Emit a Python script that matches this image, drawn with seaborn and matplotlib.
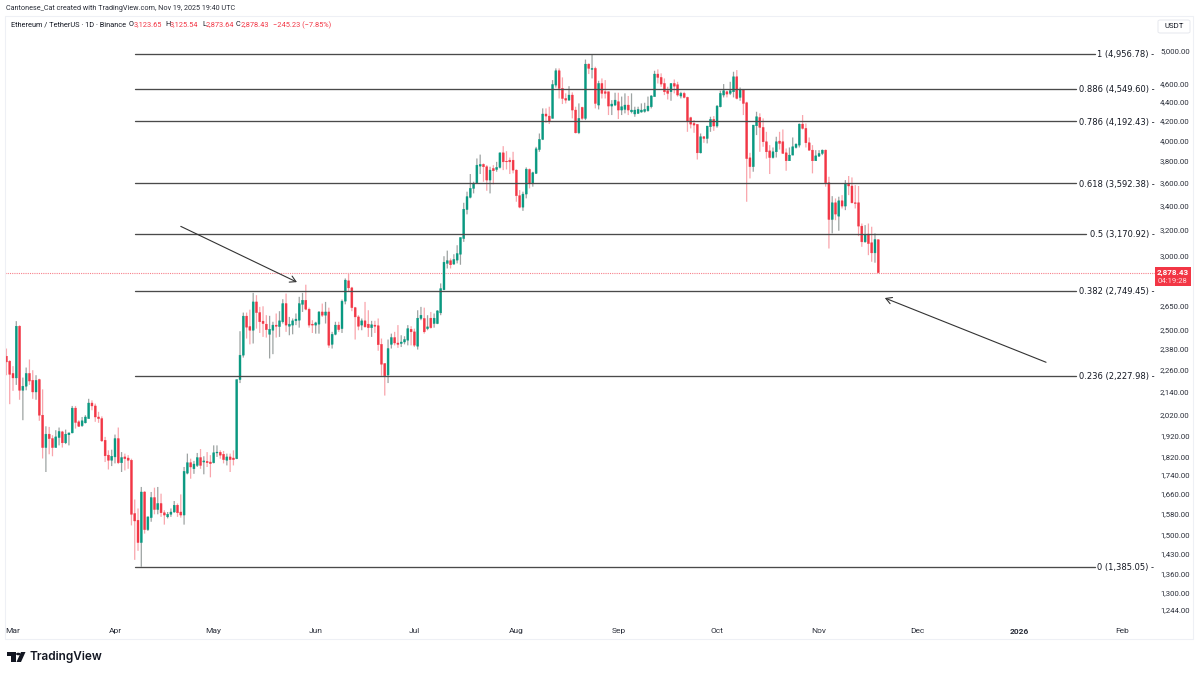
import numpy as np
import matplotlib
matplotlib.use('Agg')
import matplotlib.pyplot as plt
from matplotlib.patches import Rectangle, FancyBboxPatch, Polygon, Circle
from matplotlib.ticker import FixedLocator, FixedFormatter, NullLocator
import seaborn as sns

# daily ETH/USDT candles, first candle is Feb 27 2025
opens = [2338, 2309, 2240, 2215, 2519, 2148, 2170, 2240, 2202, 2139,
         2206, 2019, 1863, 1926, 1905, 1863, 1910, 1937, 1885, 1923,
         1932, 2055, 1986, 1967, 1981, 2002, 2081, 2066, 2010, 2002,
         1897, 1828, 1805, 1820, 1905, 1794, 1820, 1815, 1805, 1581,
         1555, 1471, 1668, 1519, 1565, 1645, 1597, 1621, 1584, 1568,
         1578, 1587, 1614, 1587, 1575, 1748, 1794, 1767, 1782, 1817,
         1797, 1800, 1797, 1794, 1838, 1841, 1832, 1805, 1820, 1815,
         1812, 2206, 2344, 2583, 2517, 2494, 2676, 2606, 2551, 2532,
         2469, 2494, 2526, 2517, 2547, 2665, 2519, 2526, 2553, 2557,
         2660, 2687, 2628, 2532, 2526, 2532, 2610, 2589, 2610, 2408,
         2469, 2526, 2504, 2681, 2820, 2771, 2638, 2578, 2526, 2553,
         2532, 2510, 2526, 2522, 2408, 2296, 2231, 2408, 2449, 2416,
         2413, 2422, 2433, 2500, 2484, 2397, 2568, 2568, 2504, 2570,
         2536, 2536, 2604, 2758, 2945, 2965, 2940, 2969, 3013, 3133,
         3367, 3471, 3549, 3594, 3751, 3767, 3745, 3623, 3729, 3720,
         3739, 3877, 3797, 3807, 3807, 3714, 3485, 3387, 3499, 3720,
         3594, 3684, 3909, 4009, 4270, 4248, 4224, 4588, 4755, 4551,
         4438, 4420, 4476, 4312, 4075, 4341, 4224, 4834, 4771, 4783,
         4366, 4607, 4513, 4513, 4355, 4366, 4402, 4312, 4319, 4366,
         4294, 4270, 4277, 4291, 4298, 4305, 4348, 4459, 4716, 4677,
         4607, 4524, 4513, 4607, 4592, 4465, 4495, 4450, 4231, 4171,
         4161, 3877, 4035, 4018, 4137, 4213, 4144, 4348, 4476, 4513,
         4495, 4513, 4684, 4450, 4532, 4391, 3829, 3746, 4147, 4234,
         4130, 3985, 3896, 3832, 3887, 3992, 3985, 3877, 3801, 3855,
         3929, 3952, 4164, 4120, 3975, 3903, 3801, 3845, 3871, 3903,
         3599, 3285, 3424, 3312, 3441, 3396, 3587, 3570, 3424, 3424,
         3231, 3107, 3168, 3100, 3023, 3123.65]
highs = [2383, 2315, 2281, 2551, 2525, 2217, 2273, 2319, 2258, 2230,
         2211, 2153, 1964, 1961, 1921, 1945, 1958, 1942, 1948, 1932,
         2066, 2066, 1994, 2010, 2019, 2103, 2095, 2078, 2036, 2013,
         1913, 1850, 1853, 1924, 1958, 1842, 1835, 1828, 1812, 1637,
         1601, 1689, 1671, 1568, 1668, 1686, 1689, 1661, 1594, 1587,
         1601, 1631, 1621, 1658, 1775, 1835, 1812, 1802, 1838, 1856,
         1823, 1842, 1828, 1873, 1873, 1850, 1847, 1835, 1835, 1850,
         2206, 2488, 2606, 2606, 2625, 2737, 2721, 2643, 2647, 2589,
         2585, 2547, 2600, 2615, 2694, 2732, 2578, 2568, 2600, 2710,
         2737, 2793, 2638, 2557, 2547, 2615, 2665, 2676, 2638, 2484,
         2547, 2547, 2692, 2837, 2876, 2778, 2643, 2589, 2568, 2676,
         2621, 2553, 2553, 2568, 2443, 2296, 2437, 2473, 2484, 2526,
         2463, 2457, 2526, 2519, 2504, 2621, 2643, 2638, 2589, 2610,
         2600, 2621, 2802, 2998, 3040, 2981, 3013, 3081, 3141, 3424,
         3520, 3678, 3608, 3823, 3860, 3776, 3760, 3745, 3760, 3791,
         3877, 3942, 3893, 3832, 3887, 3720, 3534, 3520, 3739, 3729,
         3699, 3935, 4068, 4330, 4330, 4348, 4646, 4783, 4783, 4677,
         4495, 4576, 4506, 4348, 4384, 4348, 4889, 4843, 4957, 4803,
         4638, 4665, 4646, 4513, 4420, 4502, 4502, 4459, 4495, 4466,
         4495, 4348, 4348, 4384, 4391, 4459, 4476, 4755, 4771, 4724,
         4665, 4569, 4607, 4653, 4626, 4513, 4513, 4458, 4241, 4206,
         4164, 4068, 4042, 4144, 4241, 4248, 4366, 4525, 4600, 4525,
         4626, 4743, 4763, 4561, 4539, 4402, 3877, 4154, 4294, 4277,
         4224, 4085, 3952, 3929, 4035, 4085, 4109, 3919, 3929, 4028,
         3969, 4171, 4259, 4171, 4028, 3952, 3903, 3903, 3909, 3909,
         3653, 3481, 3461, 3476, 3490, 3623, 3660, 3647, 3578, 3570,
         3252, 3239, 3252, 3226, 3173, 3125.54]
lows = [2230, 2075, 2145, 2177, 2098, 1994, 2148, 2177, 2103, 2098,
        1991, 1813, 1753, 1832, 1823, 1863, 1873, 1863, 1879, 1873,
        1930, 1953, 1961, 1961, 1978, 2002, 2044, 1986, 1981, 1889,
        1797, 1764, 1779, 1791, 1788, 1753, 1760, 1767, 1535, 1409,
        1441, 1385, 1504, 1514, 1549, 1578, 1578, 1568, 1538, 1562,
        1568, 1584, 1568, 1565, 1538, 1743, 1724, 1745, 1775, 1767,
        1743, 1775, 1730, 1791, 1820, 1812, 1791, 1782, 1753, 1782,
        1810, 2187, 2330, 2443, 2408, 2413, 2504, 2477, 2453, 2449,
        2325, 2350, 2449, 2453, 2536, 2484, 2463, 2469, 2526, 2510,
        2610, 2621, 2510, 2477, 2473, 2473, 2578, 2536, 2387, 2383,
        2463, 2484, 2477, 2660, 2743, 2615, 2437, 2494, 2494, 2510,
        2453, 2453, 2477, 2370, 2227, 2120, 2187, 2383, 2402, 2387,
        2392, 2408, 2402, 2402, 2392, 2377, 2557, 2473, 2494, 2504,
        2510, 2532, 2589, 2755, 2908, 2908, 2935, 2945, 2935, 3107,
        3327, 3462, 3505, 3594, 3678, 3608, 3528, 3505, 3585, 3699,
        3729, 3714, 3720, 3678, 3684, 3433, 3378, 3356, 3462, 3549,
        3564, 3678, 3887, 4002, 4178, 4165, 4224, 4560, 4438, 4377,
        4384, 4413, 4224, 4068, 4062, 4206, 4206, 4716, 4665, 4330,
        4319, 4438, 4438, 4259, 4259, 4355, 4217, 4259, 4277, 4259,
        4277, 4241, 4270, 4284, 4284, 4294, 4330, 4459, 4607, 4569,
        4476, 4427, 4413, 4495, 4459, 4439, 4439, 4085, 4120, 4075,
        3813, 3871, 3975, 3969, 4085, 4095, 4127, 4341, 4450, 4450,
        4476, 4450, 4428, 4413, 4259, 3433, 3638, 3699, 4052, 3887,
        3936, 3822, 3678, 3822, 3832, 3909, 3871, 3708, 3801, 3855,
        3919, 3929, 4109, 3929, 3896, 3684, 3801, 3839, 3855, 3564,
        3056, 3173, 3279, 3194, 3376, 3362, 3490, 3418, 3376, 3152,
        3069, 3100, 3006, 2957, 2950, 2873.64]
closes = [2305, 2235, 2215, 2519, 2148, 2170, 2240, 2198, 2139, 2202,
          2019, 1863, 1926, 1905, 1863, 1913, 1939, 1885, 1926, 1932,
          2055, 1983, 1964, 1991, 2010, 2081, 2066, 2010, 2002, 1894,
          1825, 1805, 1823, 1905, 1794, 1817, 1812, 1805, 1578, 1552,
          1471, 1668, 1519, 1568, 1645, 1597, 1621, 1584, 1575, 1578,
          1587, 1614, 1584, 1575, 1756, 1794, 1775, 1788, 1817, 1782,
          1802, 1794, 1790, 1839, 1842, 1828, 1808, 1820, 1808, 1808,
          2206, 2344, 2583, 2513, 2494, 2676, 2606, 2547, 2536, 2498,
          2500, 2526, 2519, 2553, 2665, 2526, 2532, 2553, 2564, 2665,
          2687, 2628, 2526, 2526, 2540, 2610, 2589, 2610, 2403, 2469,
          2526, 2498, 2681, 2825, 2771, 2638, 2578, 2519, 2553, 2515,
          2510, 2528, 2519, 2406, 2292, 2227, 2383, 2449, 2416, 2408,
          2422, 2437, 2504, 2484, 2403, 2570, 2589, 2484, 2515, 2510,
          2570, 2617, 2766, 2954, 2965, 2935, 2974, 3018, 3141, 3370,
          3477, 3549, 3594, 3760, 3767, 3745, 3623, 3714, 3708, 3739,
          3877, 3791, 3791, 3791, 3714, 3485, 3387, 3499, 3723, 3594,
          3690, 3916, 4009, 4270, 4248, 4189, 4595, 4755, 4551, 4438,
          4420, 4476, 4312, 4075, 4224, 4224, 4834, 4783, 4783, 4384,
          4607, 4495, 4495, 4355, 4377, 4420, 4312, 4348, 4366, 4312,
          4312, 4312, 4319, 4312, 4319, 4355, 4466, 4716, 4677, 4600,
          4513, 4495, 4607, 4576, 4476, 4495, 4450, 4196, 4164, 4154,
          3877, 4035, 4018, 4144, 4213, 4144, 4355, 4495, 4525, 4487,
          4525, 4684, 4439, 4539, 4384, 3822, 3746, 4154, 4241, 4130,
          3985, 3887, 3832, 3887, 3985, 3969, 3871, 3801, 3855, 3936,
          3962, 4164, 4120, 3975, 3903, 3801, 3848, 3871, 3903, 3599,
          3285, 3424, 3329, 3441, 3396, 3587, 3570, 3424, 3418, 3231,
          3107, 3165, 3094, 3023, 3125, 2878.43]

fib_ratios = ["1", "0.886", "0.786", "0.618", "0.5", "0.382", "0.236", "0"]
fib_prices = [4956.78, 4549.60, 4192.43, 3592.38, 3170.92, 2749.45, 2227.98, 1385.05]

price_ticks = [5000, 4600, 4400, 4200, 4000, 3800, 3600, 3400, 3200, 3000, 2650, 2500,
               2380, 2260, 2140, 2020, 1920, 1820, 1740, 1660, 1580, 1500, 1430, 1360,
               1300, 1244]
month_days = [0, 31, 61, 92, 122, 153, 184, 214, 245, 275, 306, 337]
month_labels = ["Mar", "Apr", "May", "Jun", "Jul", "Aug", "Sep", "Oct", "Nov", "Dec", "2026", "Feb"]

last_price = 2878.43
GREEN = "#089981"
RED = "#F23645"
INK = "#131722"
W, H = 1200, 675

sns.set_theme(style="white")
plt.rcParams['font.family'] = ['Roboto', 'DejaVu Sans']

fig = plt.figure(figsize=(12, 6.75), dpi=100, facecolor="white")
ax = fig.add_axes([5 / W, 1 - 622 / H, 1150 / W, 606 / H])


def px_text(x, y, s, **kw):
    # figure text placed by pixel position
    kw.setdefault("color", INK)
    kw.setdefault("fontsize", 5.3)
    kw.setdefault("va", "center")
    fig.text(x / W, 1 - y / H, s, **kw)


o = np.array(opens, dtype=float)
h = np.array(highs, dtype=float)
l = np.array(lows, dtype=float)
c = np.array(closes, dtype=float)
days = np.arange(len(o)) - 2
up = c >= o

# wicks look washed out next to the bodies, no pixel snapping so they stay soft
ax.vlines(days[up], l[up], h[up], color="#9da3a2", linewidth=0.9, zorder=2, snap=False)
ax.vlines(days[~up], l[~up], h[~up], color="#f9a5ac", linewidth=0.9, zorder=2, snap=False)
ax.bar(days[up], (c - o)[up], bottom=o[up], width=0.6, color=GREEN, edgecolor=GREEN, linewidth=0.3, zorder=3, snap=False)
ax.bar(days[~up], (o - c)[~up], bottom=c[~up], width=0.6, color=RED, edgecolor=RED, linewidth=0.3, zorder=3, snap=False)

# fib levels, line stops short of the inline label
fib_start = 37
for ratio, price in zip(fib_ratios, fib_prices):
    fib_end = {"1": 329, "0": 329, "0.5": 326}.get(ratio, 323)
    sns.lineplot(x=[fib_start, fib_end], y=[price, price], ax=ax, color="#4a4a4a", linewidth=0.95,
                 legend=False, errorbar=None, zorder=4)
    ax.annotate(f"{ratio} ({price:,.2f}) -", xy=(0.9995, price), xycoords=ax.get_yaxis_transform(),
                xytext=(0, -0.6), textcoords="offset points", ha="right", va="center",
                fontsize=6, family=["DejaVu Sans"], color=INK, zorder=5)

ax.axhline(last_price, color="#f7808b", linewidth=0.8, linestyle=(0, (1, 1)), zorder=1)

arrow = dict(arrowstyle="->,head_length=0.35,head_width=0.2", color="#333333", linewidth=0.8, shrinkA=0, shrinkB=0)
ax.annotate("", xy=(86.3, 2811), xytext=(51, 3229), arrowprops=arrow, zorder=6)
ax.annotate("", xy=(265, 2702), xytext=(314, 2303), arrowprops=arrow, zorder=6)

ax.set_yscale("log")
ax.set_xlim((5 - 13) / 3.29, (1155 - 13) / 3.29)
ax.set_ylim(1207.2, 5448.5)
ax.yaxis.tick_right()
ax.yaxis.set_major_locator(FixedLocator(price_ticks))
ax.yaxis.set_major_formatter(FixedFormatter([f"{t:,.2f}" for t in price_ticks]))
ax.yaxis.set_minor_locator(NullLocator())
ax.tick_params(axis="y", length=0, pad=25, labelsize=5.6, labelcolor="#2a2e39")
for lab in ax.get_yticklabels():
    lab.set_ha("right")
ax.set_xticks(month_days)
ax.set_xticklabels(month_labels)
ax.tick_params(axis="x", length=0, pad=4.5, labelsize=6, labelcolor="#2a2e39")
ax.get_xticklabels()[month_labels.index("2026")].set_fontweight("bold")
ax.grid(False)
sns.despine(ax=ax, left=True, right=True, top=True, bottom=True)

# pane outline, USDT button and last price tag
fig.add_artist(Rectangle((5 / W, 1 - 639 / H), 1188 / W, 623 / H, transform=fig.transFigure,
                         fill=False, edgecolor="#eef0f5", linewidth=0.8))
fig.add_artist(FancyBboxPatch((1158 / W, 1 - 33 / H), 32 / W, 13 / H, transform=fig.transFigure,
                              boxstyle="round,pad=0,rounding_size=0.002", facecolor="white",
                              edgecolor="#e6e8ee", linewidth=0.7))
px_text(1174, 26.5, "USDT", ha="center", fontsize=5.6)
fig.add_artist(Rectangle((1155 / W, 1 - 286 / H), 36 / W, 19 / H, transform=fig.transFigure,
                         facecolor=RED, edgecolor="none"))
px_text(1173, 272.5, "2,878.43", ha="center", color="white", fontsize=5.8, fontweight="bold")
px_text(1173, 281, "04:19:28", ha="center", color="#ffd9dc", fontsize=5.6)

# header lines
px_text(6, 9, "Cantonese_Cat created with TradingView.com, Nov 19, 2025 19:40 UTC", fontsize=5.2, color="#2a2e39")
px_text(11, 25, "Ethereum / TetherUS · 1D · Binance")
for x, s in [(129, "O"), (165, "H"), (202, "L"), (236, "C")]:
    px_text(x, 25, s)
for x, s in [(134, "3,123.65"), (170, "3,125.54"), (206, "2,873.64"), (241, "2,878.43"), (273, "−245.23 (−7.85%)")]:
    px_text(x, 25, s, color=RED)

# TradingView logo
fig.add_artist(Polygon([(7 / W, 1 - 652 / H), (15.5 / W, 1 - 652 / H), (15.5 / W, 1 - 662 / H),
                        (11 / W, 1 - 662 / H), (11 / W, 1 - 656 / H), (7 / W, 1 - 656 / H)],
                       transform=fig.transFigure, facecolor=INK, edgecolor="none"))
fig.add_artist(Circle((18.3 / W, 1 - 654 / H), 0.0019, transform=fig.transFigure, facecolor=INK, edgecolor="none"))
fig.add_artist(Polygon([(21 / W, 1 - 652 / H), (25.5 / W, 1 - 652 / H), (21 / W, 1 - 662 / H),
                        (16.5 / W, 1 - 662 / H)], transform=fig.transFigure, facecolor=INK, edgecolor="none"))
px_text(29, 657, "TradingView", fontsize=8.5, family=["Inter", "DejaVu Sans"], fontweight="semibold", color=INK)

fig.savefig("out.png", dpi=100)
plt.close("all")
